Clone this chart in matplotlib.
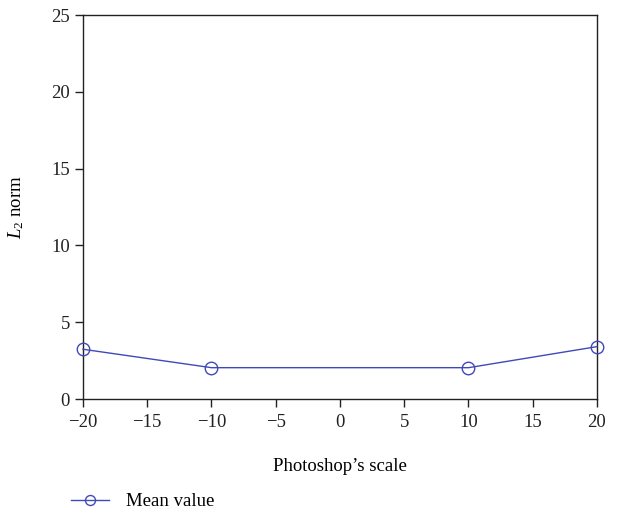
import matplotlib.pyplot as plt

plt.rcParams['font.family'] = ['Liberation Serif', 'DejaVu Serif']
plt.rcParams['mathtext.fontset'] = 'custom'
plt.rcParams['mathtext.it'] = 'Liberation Serif:italic'
plt.rcParams['mathtext.rm'] = 'Liberation Serif'

scale = [-20, -10, 10, 20]
mean_value = [3.24, 2.04, 2.04, 3.41]

blue = '#4049b8'

fig = plt.figure(figsize=(6.18, 5.18), dpi=100)
ax = fig.add_axes([0.1343, 0.2297, 0.8317, 0.7413])

ax.plot(scale, mean_value, color=blue, lw=1.0, marker='o', markersize=9,
        markerfacecolor='none', markeredgecolor=blue, markeredgewidth=1.0,
        label='Mean value', clip_on=False, zorder=3)

ax.set_xlim(-20, 20)
ax.set_ylim(0, 25)
ax.set_xticks(range(-20, 21, 5))
ax.set_yticks(range(0, 26, 5))
ax.set_xticklabels([str(t).replace('-', '\u2212') for t in range(-20, 21, 5)])
ax.tick_params(direction='out', length=6, width=1, labelsize=13.5,
               top=False, right=False, colors='#222222')
ax.tick_params(axis='x', pad=5)
for s in ax.spines.values():
    s.set_linewidth(1.0)
    s.set_color('#222222')

ax.set_xlabel("Photoshop\u2019s scale", fontsize=13.5, labelpad=19)
ax.set_ylabel(r'$L_2$ norm', fontsize=13.5, labelpad=18)

fig.legend(loc='lower left', bbox_to_anchor=(0.088, -0.018), frameon=False,
           fontsize=13.5, handlelength=2.0, handletextpad=0.9, markerscale=0.8)

fig.savefig('out.png', dpi=100)
